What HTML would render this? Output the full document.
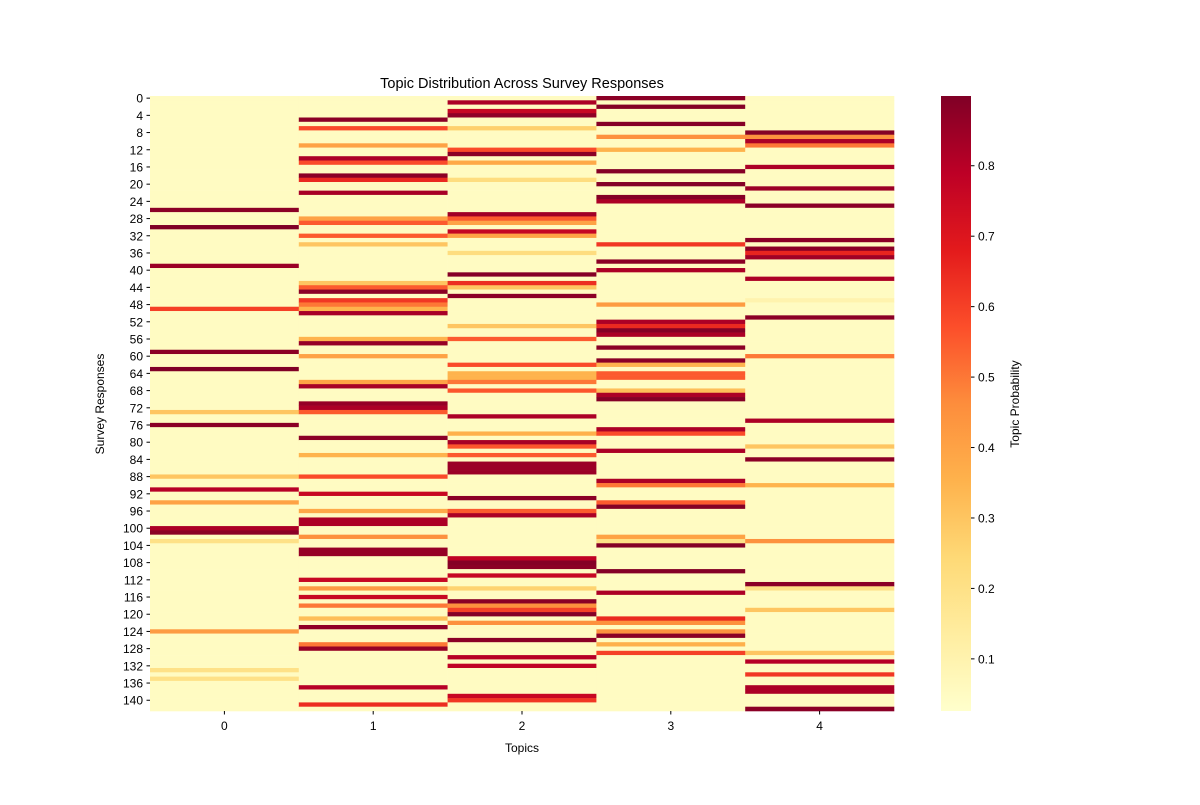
<!DOCTYPE html>
<html><head><meta charset="utf-8"><style>
body{margin:0;background:#fff;}
svg text{font-family:"Liberation Sans","DejaVu Sans",sans-serif;fill:#000;}
</style></head><body>
<svg id="chart" width="1200" height="800" xmlns="http://www.w3.org/2000/svg">
<defs><linearGradient id="cbgrad" x1="0" y1="1" x2="0" y2="0"></linearGradient></defs>
<text x="522" y="88" font-size="14.5" text-anchor="middle">Topic Distribution Across Survey Responses</text>
<g id="cells"></g>
<g id="yticks"></g>
<g id="xticks"></g>
<text x="522" y="752" font-size="12" text-anchor="middle">Topics</text>
<text transform="translate(104,404) rotate(-90)" font-size="12" text-anchor="middle">Survey Responses</text>
<rect x="941" y="96" width="30" height="615" fill="url(#cbgrad)"/>
<g id="cbticks"></g>
<text transform="translate(1019,404) rotate(-90)" font-size="12" text-anchor="middle">Topic Probability</text>
</svg>
<script>
const nRows = 143;
const topics = ["0","1","2","3","4"];
const baseline = 0.05;
const topic0 = {26:0.88,30:0.9,39:0.85,49:0.6,59:0.88,63:0.9,73:0.3,76:0.88,88:0.3,91:0.8,94:0.4,100:0.82,101:0.88,103:0.2,124:0.42,133:0.2,135:0.2};
const topic1 = {5:0.88,7:0.58,11:0.4,14:0.82,15:0.58,18:0.88,19:0.65,22:0.83,28:0.4,29:0.55,32:0.55,34:0.3,43:0.3,44:0.55,45:0.88,47:0.62,48:0.5,49:0.35,50:0.83,56:0.35,57:0.86,60:0.4,66:0.4,67:0.83,71:0.86,72:0.82,73:0.55,79:0.88,83:0.35,88:0.58,92:0.76,96:0.38,98:0.82,99:0.82,102:0.45,105:0.86,106:0.86,112:0.76,114:0.42,116:0.76,118:0.5,121:0.32,123:0.87,127:0.5,128:0.86,137:0.8,141:0.64};
const topic2 = {1:0.82,3:0.76,4:0.87,7:0.27,12:0.58,13:0.88,15:0.38,19:0.22,27:0.84,28:0.55,29:0.4,31:0.77,32:0.4,36:0.22,41:0.89,43:0.64,44:0.3,46:0.88,53:0.3,56:0.55,62:0.58,64:0.35,65:0.35,66:0.5,68:0.56,74:0.82,78:0.36,80:0.83,81:0.56,83:0.55,85:0.85,86:0.85,87:0.85,93:0.88,96:0.55,97:0.82,107:0.78,108:0.89,109:0.88,111:0.76,114:0.26,117:0.88,118:0.45,119:0.6,120:0.89,122:0.45,126:0.88,130:0.8,132:0.78,139:0.76,140:0.62};
const topic3 = {0:0.88,2:0.89,6:0.89,9:0.45,12:0.35,17:0.89,20:0.89,23:0.89,24:0.82,34:0.62,38:0.88,40:0.82,48:0.42,52:0.82,53:0.65,54:0.89,55:0.82,58:0.88,61:0.88,62:0.35,64:0.55,65:0.55,68:0.32,69:0.82,70:0.89,77:0.82,78:0.58,82:0.82,89:0.82,90:0.5,94:0.55,95:0.89,102:0.4,103:0.2,104:0.89,110:0.89,115:0.82,121:0.65,122:0.45,124:0.45,125:0.88,127:0.36,129:0.6};
const topic4 = {8:0.89,9:0.45,10:0.82,11:0.5,16:0.82,21:0.85,25:0.88,33:0.88,35:0.88,36:0.66,37:0.84,42:0.82,47:0.1,51:0.88,60:0.5,75:0.82,81:0.3,84:0.88,90:0.35,103:0.45,113:0.88,114:0.2,119:0.3,129:0.3,131:0.8,134:0.62,137:0.82,138:0.82,142:0.88};
const cbTicks = [0.1,0.2,0.3,0.4,0.5,0.6,0.7,0.8];
const vmin = 0.026, vmax = 0.899;

const cols = [topic0,topic1,topic2,topic3,topic4];
const stops = ["#ffffcc","#ffeda0","#fed976","#feb24c","#fd8d3c","#fc4e2a","#e31a1c","#bd0026","#800026"];
function hex(h){return [1,3,5].map(i=>parseInt(h.substr(i,2),16));}
function color(v){
  let t=Math.max(0,Math.min(1,(v-vmin)/(vmax-vmin)))*(stops.length-1);
  let i=Math.min(stops.length-2,Math.floor(t)),f=t-i;
  let a=hex(stops[i]),b=hex(stops[i+1]);
  return "rgb("+a.map((c,k)=>Math.round(c+(b[k]-c)*f)).join(",")+")";
}
const X0=150,X1=894,Y0=96,Y1=711;
const cw=(X1-X0)/topics.length, rh=(Y1-Y0)/nRows;
const xScale=c=>X0+c*cw;
const yScale=r=>Y0+r*rh;
const NS="http://www.w3.org/2000/svg";
const cells=document.getElementById("cells");
cols.forEach((col,c)=>{
  for(let r=0;r<nRows;r++){
    const v=(col[r]!==undefined)?col[r]:baseline;
    const el=document.createElementNS(NS,"rect");
    
    
    el.setAttribute("x",xScale(c));el.setAttribute("y",yScale(r));
    el.setAttribute("width",cw+0.3);el.setAttribute("height",rh+0.3);
    el.setAttribute("fill",color(v));
    cells.appendChild(el);
  }
});
const yt=document.getElementById("yticks");
for(let r=0;r<nRows;r+=4){
  const y=yScale(r+0.5);
  const l=document.createElementNS(NS,"line");
  
  
  l.setAttribute("x1",146.5);l.setAttribute("x2",150);l.setAttribute("y1",y);l.setAttribute("y2",y);l.setAttribute("stroke","#000");
  yt.appendChild(l);
  const t=document.createElementNS(NS,"text");
  
  
  t.setAttribute("x",143);t.setAttribute("y",y+4.5);t.setAttribute("font-size","12");t.setAttribute("text-anchor","end");
  t.textContent=r;yt.appendChild(t);
}
const xt=document.getElementById("xticks");
topics.forEach((name,c)=>{
  const x=xScale(c+0.5);
  const l=document.createElementNS(NS,"line");
  
  
  l.setAttribute("x1",x);l.setAttribute("x2",x);l.setAttribute("y1",711);l.setAttribute("y2",714.5);l.setAttribute("stroke","#000");
  xt.appendChild(l);
  const t=document.createElementNS(NS,"text");
  
  
  t.setAttribute("x",x);t.setAttribute("y",730);t.setAttribute("font-size","12");t.setAttribute("text-anchor","middle");
  t.textContent=name;xt.appendChild(t);
});
const g=document.getElementById("cbgrad");
stops.forEach((s,i)=>{
  const st=document.createElementNS(NS,"stop");
  st.setAttribute("offset",(i/(stops.length-1)*100)+"%");st.setAttribute("stop-color",s);g.appendChild(st);
});
const cbt=document.getElementById("cbticks");
cbTicks.forEach(v=>{
  const y=Y1-(v-vmin)/(vmax-vmin)*(Y1-Y0);
  const l=document.createElementNS(NS,"line");
  
  
  l.setAttribute("x1",971);l.setAttribute("x2",974.5);l.setAttribute("y1",y);l.setAttribute("y2",y);l.setAttribute("stroke","#000");
  cbt.appendChild(l);
  const t=document.createElementNS(NS,"text");
  
  
  t.setAttribute("x",978);t.setAttribute("y",y+4.5);t.setAttribute("font-size","12");
  t.textContent=v.toFixed(1);cbt.appendChild(t);
});
</script>
</body></html>
